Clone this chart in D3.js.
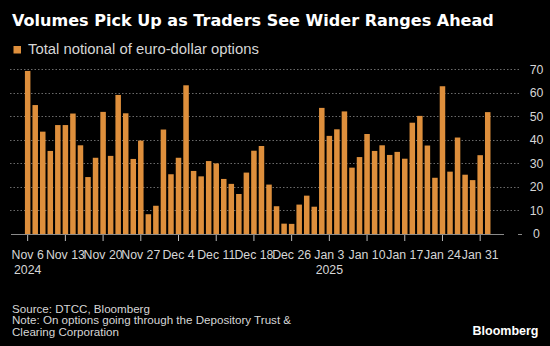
<!DOCTYPE html>
<html>
<head>
<meta charset="utf-8">
<script src="https://cdn.jsdelivr.net/npm/d3@7"></script>
<style>
  html, body { margin: 0; padding: 0; background: #000; }
  svg { display: block; }
</style>
</head>
<body>
<svg id="chart" width="550" height="346"></svg>
<script>
// ---- Data ----
const title = "Volumes Pick Up as Traders See Wider Ranges Ahead";
const seriesName = "Total notional of euro-dollar options";
const dates = [
  "2024-11-06","2024-11-07","2024-11-08","2024-11-11","2024-11-12","2024-11-13","2024-11-14","2024-11-15",
  "2024-11-18","2024-11-19","2024-11-20","2024-11-21","2024-11-22","2024-11-25","2024-11-26","2024-11-27",
  "2024-11-28","2024-11-29","2024-12-02","2024-12-03","2024-12-04","2024-12-05","2024-12-06","2024-12-09",
  "2024-12-10","2024-12-11","2024-12-12","2024-12-13","2024-12-16","2024-12-17","2024-12-18","2024-12-19",
  "2024-12-20","2024-12-23","2024-12-24","2024-12-26","2024-12-27","2024-12-30","2024-12-31","2025-01-02",
  "2025-01-03","2025-01-06","2025-01-07","2025-01-08","2025-01-09","2025-01-10","2025-01-13","2025-01-14",
  "2025-01-15","2025-01-16","2025-01-17","2025-01-20","2025-01-21","2025-01-22","2025-01-23","2025-01-24",
  "2025-01-27","2025-01-28","2025-01-29","2025-01-30","2025-01-31","2025-02-03"
];
const values = [
  69.3, 54.8, 43.5, 35.3, 46.3, 46.3, 51.2, 37.7, 24.2, 32.4, 51.9, 33.2, 59.1, 51.3, 31.9, 39.7,
  8.4, 12.0, 44.4, 25.4, 32.4, 63.2, 26.8, 24.5, 31.0, 30.0, 23.4, 21.3, 17.0, 26.1, 35.4, 37.4,
  21.0, 11.8, 4.4, 4.3, 12.5, 16.3, 11.6, 53.6, 41.7, 44.5, 52.1, 28.2, 32.7, 42.5, 35.3, 37.7,
  33.6, 34.9, 32.0, 47.3, 50.2, 37.6, 23.9, 62.8, 26.5, 41.0, 25.2, 22.9, 33.5, 51.8
];
const tickDates = ["2024-11-06","2024-11-13","2024-11-20","2024-11-27","2024-12-04","2024-12-11","2024-12-18",
  "2024-12-26","2025-01-03","2025-01-10","2025-01-17","2025-01-24","2025-01-31"];
const tickLabels = ["Nov 6","Nov 13","Nov 20","Nov 27","Dec 4","Dec 11","Dec 18","Dec 26","Jan 3","Jan 10","Jan 17","Jan 24","Jan 31"];
const yearDates = ["2024-11-06","2025-01-03"];
const yearLabels = ["2024","2025"];
const yTicks = [0, 10, 20, 30, 40, 50, 60, 70];
const sourceLines = [
  "Source: DTCC, Bloomberg",
  "Note: On options going through the Depository Trust &",
  "Clearing Corporation"
];
const brand = "Bloomberg";

// ---- Styles ----
const BAR = "#de8f3c";
const TXT = "#d6d6d6";
const FONT = "'Liberation Sans', Arial, sans-serif";

const svg = d3.select("#chart");
svg.append("rect").attr("width", 550).attr("height", 346).attr("fill", "#000");

function fitText(sel, targetWidth, startSize) {
  sel.attr("font-size", startSize);
  const w = sel.node().getComputedTextLength();
  sel.attr("font-size", startSize * targetWidth / w);
}

// Title
const t = svg.append("text").attr("x", 12).attr("y", 26)
  .attr("fill", "#fff").attr("font-family", "'DejaVu Sans', sans-serif")
  .attr("font-weight", "bold").text(title);
fitText(t, 482, 17);

// Legend
svg.append("rect").attr("x", 13.5).attr("y", 46).attr("width", 7.5).attr("height", 7.5).attr("fill", BAR);
const lg = svg.append("text").attr("x", 28).attr("y", 54.3)
  .attr("fill", TXT).attr("font-family", FONT).text(seriesName);
fitText(lg, 231, 13);

// Scales
const x = d3.scaleBand().domain(dates).range([23.9, 491.5]).paddingInner(0.27).paddingOuter(0.135);
const y = d3.scaleLinear().domain([0, 70]).range([234, 69.3]);

// Gridlines
svg.append("g").selectAll("line").data(yTicks.filter(d => d > 0)).join("line")
  .attr("x1", 10).attr("x2", 521)
  .attr("y1", d => Math.round(y(d)) + 0.5).attr("y2", d => Math.round(y(d)) + 0.5)
  .attr("stroke", "#6a6a6a").attr("stroke-width", 1).attr("stroke-dasharray", "1.5,2");

// Bars
svg.append("g").selectAll("rect").data(values).join("rect")
  .attr("x", (d, i) => x(dates[i]))
  .attr("width", x.bandwidth())
  .attr("y", d => y(d))
  .attr("height", d => y(0) - y(d))
  .attr("fill", BAR);

// Baseline
svg.append("line").attr("x1", 11).attr("x2", 504).attr("y1", 234.5).attr("y2", 234.5)
  .attr("stroke", "#8a8a8a").attr("stroke-width", 1.2);
svg.append("line").attr("x1", 518).attr("x2", 522).attr("y1", 234.5).attr("y2", 234.5)
  .attr("stroke", "#8a8a8a").attr("stroke-width", 1);

// X axis
const xAxis = d3.axisBottom(x).tickValues(tickDates)
  .tickFormat((d, i) => tickLabels[i]).tickSize(6).tickPadding(9);
const gx = svg.append("g").attr("transform", "translate(0,235)").call(xAxis);
gx.select(".domain").remove();
gx.selectAll(".tick line").attr("stroke", "#bdbdbd");
gx.selectAll(".tick text").attr("fill", TXT).attr("font-family", FONT).attr("font-size", 12.3);

// Year labels
svg.append("g").selectAll("text").data(yearDates).join("text")
  .attr("x", d => x(d) + x.bandwidth() / 2)
  .attr("y", 274)
  .attr("text-anchor", "middle")
  .attr("fill", TXT).attr("font-family", FONT).attr("font-size", 12.3)
  .text((d, i) => yearLabels[i]);

// Y axis (right)
const yAxis = d3.axisRight(y).tickValues(yTicks).tickSize(0).tickPadding(0);
const gy = svg.append("g").attr("transform", "translate(536.5,0)").call(yAxis);
gy.select(".domain").remove();
gy.selectAll(".tick text").attr("fill", TXT).attr("font-family", FONT)
  .attr("font-size", 12.3).attr("text-anchor", "middle");

// Footer
svg.append("g").selectAll("text").data(sourceLines).join("text")
  .attr("x", 12).attr("y", (d, i) => 312.5 + i * 11.6)
  .attr("fill", TXT).attr("font-family", FONT).attr("font-size", 11.6)
  .text(d => d);
svg.append("text").attr("x", 538.5).attr("y", 335).attr("text-anchor", "end")
  .attr("fill", "#fff").attr("font-family", FONT).attr("font-weight", "bold")
  .attr("font-size", 12.5).text(brand);
</script>
</body>
</html>
